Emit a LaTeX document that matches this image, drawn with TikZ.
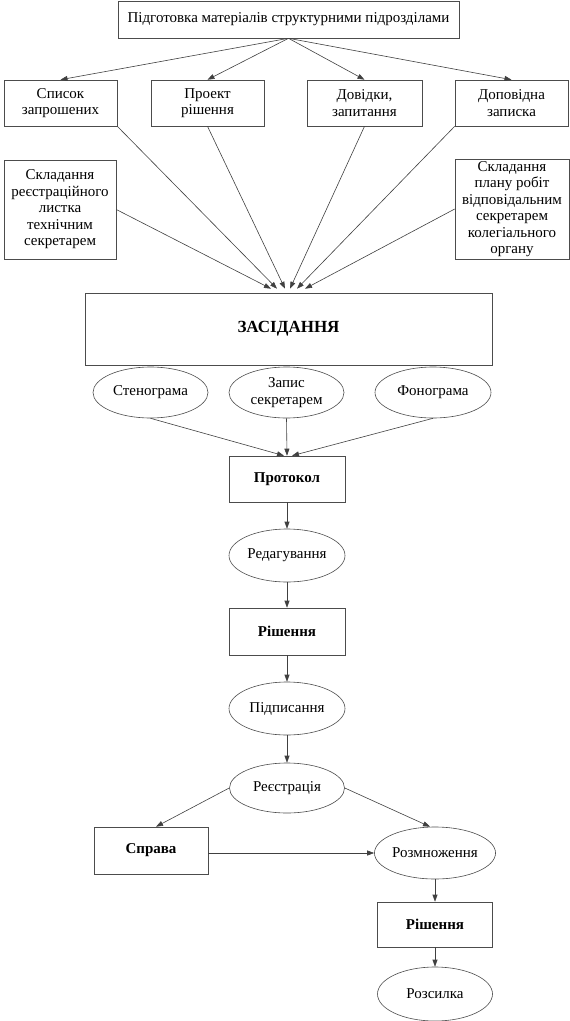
\documentclass[tikz,border=0pt]{standalone}
\usepackage{fontspec}
\setmainfont{Liberation Serif}
\usetikzlibrary{arrows.meta,shapes.geometric}

\begin{document}
\begin{tikzpicture} [x=1pt,y=-1pt,
  box/.style={rectangle,draw=black!70,line width=0.6pt,align=center,inner sep=0pt,font=\fontsize{15}{16.5}\selectfont},
  oval/.style={ellipse,draw=black!70,line width=0.6pt,align=center,inner sep=0pt,font=\fontsize{15}{16.5}\selectfont},
  arr/.style={draw=black!75,line width=0.6pt,-{Triangle[length=7pt,width=5pt]}}]
\useasboundingbox (0,0) rectangle (570,1021);
\node [box,minimum width=341,minimum height=37] (top) at (288.5,19.5) {Підготовка матеріалів структурними підрозділами};
\node [box,minimum width=113,minimum height=46] (spysok) at (60.5,103) {Список\\запрошених};
\node [box,minimum width=113,minimum height=46] (proekt) at (207.5,103) {Проект\\рішення};
\node [box,minimum width=115,minimum height=46] (dovidky) at (364.5,103) {Довідки,\\запитання};
\node [box,minimum width=113,minimum height=46] (zapyska) at (511.5,103) {Доповідна\\записка};
\node [box,minimum width=112,minimum height=99] (lystok) at (60,209.5) {Складання\\реєстраційного\\листка\\технічним\\секретарем};
\node [box,minimum width=114,minimum height=100] (plan) at (512,209) {Складання\\плану робіт\\відповідальним\\секретарем\\колегіального\\органу};
\node [box,minimum width=407,minimum height=72,font=\fontsize{17}{19}\selectfont\bfseries] (zas) at (288.5,329) {ЗАСІДАННЯ};
\node [oval,minimum width=115,minimum height=51] (steno) at (150.5,392.5) {Стенограма};
\node [oval,minimum width=115,minimum height=51] (zapys) at (286.5,392.5) {Запис\\секретарем};
\node [oval,minimum width=116,minimum height=51] (fono) at (433,392.5) {Фонограма};
\node [box,minimum width=116,minimum height=46,font=\fontsize{15}{16.5}\selectfont\bfseries] (prot) at (287,479) {Протокол};
\node [oval,minimum width=116,minimum height=53] (red) at (287,555.5) {Редагування};
\node [box,minimum width=116,minimum height=47,font=\fontsize{15}{16.5}\selectfont\bfseries] (rish) at (287,631.5) {Рішення};
\node [oval,minimum width=116,minimum height=53] (pidp) at (287,708.5) {Підписання};
\node [oval,minimum width=115,minimum height=50] (reie) at (287,788) {Реєстрація};
\node [box,minimum width=114,minimum height=47,font=\fontsize{15}{16.5}\selectfont\bfseries] (sprava) at (151,850.5) {Справа};
\node [oval,minimum width=116,minimum height=52] (rozm) at (435,853) {Розмноження};
\node [box,minimum width=115,minimum height=45,font=\fontsize{15}{16.5}\selectfont\bfseries] (rish2) at (435,924.5) {Рішення};
\node [oval,minimum width=115,minimum height=54] (rozs) at (435,994) {Розсилка};
\draw [arr] (top.south) -- (spysok.north);
\draw [arr] (top.south) -- (proekt.north);
\draw [arr] (top.south) -- (dovidky.north);
\draw [arr] (top.south) -- (zapyska.north);
\draw [arr] (lystok.east) -- ([xshift=-17.5pt,yshift=4pt]zas.north);
\draw [arr] (spysok.south east) -- ([xshift=-11.5pt,yshift=4pt]zas.north);
\draw [arr] (proekt.south) -- ([xshift=-3.5pt,yshift=4pt]zas.north);
\draw [arr] (dovidky.south) -- ([xshift=1.5pt,yshift=4pt]zas.north);
\draw [arr] (zapyska.south west) -- ([xshift=8.5pt,yshift=4pt]zas.north);
\draw [arr] (plan.west) -- ([xshift=16.5pt,yshift=4pt]zas.north);
\draw [arr] (steno.south) -- ([xshift=-3pt]prot.north);
\draw [arr] (zapys.south) -- (prot.north);
\draw [arr] (fono.south) -- ([xshift=5pt]prot.north);
\draw [arr] (prot) -- (red);
\draw [arr] (red) -- (rish);
\draw [arr] (rish) -- (pidp);
\draw [arr] (pidp) -- (reie);
\draw [arr] (reie.west) -- ([xshift=5pt]sprava.north);
\draw [arr] (reie.east) -- ([xshift=-5pt]rozm.north);
\draw [arr] (sprava.east |- rozm.west) -- (rozm.west);
\draw [arr] (rozm) -- (rish2);
\draw [arr] (rish2) -- (rozs);
\end{tikzpicture}
\end{document}
